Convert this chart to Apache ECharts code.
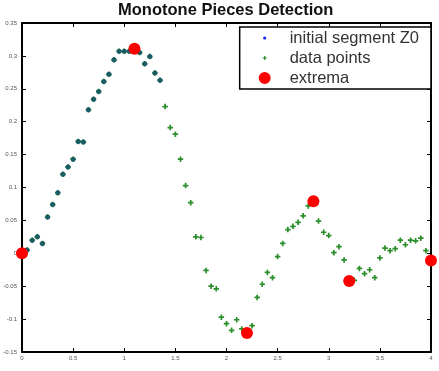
<!DOCTYPE html>
<html>
<head>
<meta charset="utf-8">
<script src="https://cdn.jsdelivr.net/npm/echarts@6/dist/echarts.min.js"></script>
<style>
  html, body { margin: 0; padding: 0; background: #fff; }
  #chart { width: 439px; height: 371px; }
</style>
</head>
<body>
<div id="chart"></div>
<script>
// sample positions
const xValues = [
  0, 0.05, 0.1, 0.15, 0.2, 0.25, 0.3, 0.35, 0.4, 0.45,
  0.5, 0.55, 0.6, 0.65, 0.7, 0.75, 0.8, 0.85, 0.9, 0.95,
  1, 1.05, 1.1, 1.15, 1.2, 1.25, 1.3, 1.35, 1.4, 1.45,
  1.5, 1.55, 1.6, 1.65, 1.7, 1.75, 1.8, 1.85, 1.9, 1.95,
  2, 2.05, 2.1, 2.15, 2.2, 2.25, 2.3, 2.35, 2.4, 2.45,
  2.5, 2.55, 2.6, 2.65, 2.7, 2.75, 2.8, 2.85, 2.9, 2.95,
  3, 3.05, 3.1, 3.15, 3.2, 3.25, 3.3, 3.35, 3.4, 3.45,
  3.5, 3.55, 3.6, 3.65, 3.7, 3.75, 3.8, 3.85, 3.9, 3.95,
  4
];
const yValues = [
  0.000, 0.005, 0.020, 0.025, 0.015, 0.055, 0.074, 0.092, 0.120, 0.131,
  0.143, 0.170, 0.169, 0.218, 0.234, 0.246, 0.261, 0.272, 0.294, 0.307,
  0.307, 0.307, 0.310, 0.305, 0.288, 0.299, 0.274, 0.263, 0.223, 0.191,
  0.181, 0.143, 0.103, 0.077, 0.025, 0.024, -0.026, -0.050, -0.054, -0.097,
  -0.107, -0.117, -0.101, -0.115, -0.120, -0.110, -0.067, -0.047, -0.029, -0.037,
  -0.005, 0.015, 0.036, 0.041, 0.047, 0.057, 0.072, 0.078, 0.049, 0.032,
  0.027, 0.001, 0.010, -0.010, -0.042, -0.041, -0.023, -0.031, -0.025, -0.037,
  -0.007, 0.008, 0.004, 0.007, 0.020, 0.013, 0.020, 0.019, 0.023, 0.004,
  -0.011
];
// number of samples in the initial segment Z0
const z0Count = 28;

const extremaX = [0, 1.1, 2.2, 2.85, 3.2, 4];
const extremaY = [0, 0.311, -0.121, 0.079, -0.042, -0.011];

const xTicks = [0, 0.5, 1, 1.5, 2, 2.5, 3, 3.5, 4];
const yTicks = [-0.15, -0.1, -0.05, 0, 0.05, 0.1, 0.15, 0.2, 0.25, 0.3, 0.35];

const pts = xValues.map((x, i) => [x, yValues[i]]);
const z0 = pts.slice(0, z0Count);
const ext = extremaX.map((x, i) => [x, extremaY[i]]);

const plus = 'path://M1.9,0h1.7v1.9h1.9v1.7h-1.9v1.9h-1.7v-1.9h-1.9v-1.7h1.9z';
// legend icons padded inside a 14x14 box so they keep small sizes
const pad = 'M0,0h0.01v0.01h-0.01zM14,14h0.01v0.01h-0.01z';
const iconDot = 'path://' + pad + 'M8.6,7a1.6,1.6 0 1,1 -3.2,0a1.6,1.6 0 1,1 3.2,0z';
const iconPlus = 'path://' + pad + 'M6.4,5h1.2v1.4h1.4v1.2h-1.4v1.4h-1.2v-1.4h-1.4v-1.2h1.4z';
const iconBig = 'path://' + pad + 'M13,7a6,6 0 1,1 -12,0a6,6 0 1,1 12,0z';

const fmt = v => {
  const t = yTicks.concat(xTicks).find(k => Math.abs(k - v) < 1e-9);
  return t === undefined ? '' : String(t);
};

const tickLabel = { fontSize: 6, color: '#555', fontFamily: 'Liberation Sans' };
const line = { onZero: false, lineStyle: { color: '#000', width: 2 } };

const chart = echarts.init(document.getElementById('chart'));
chart.setOption({
  animation: false,
  backgroundColor: '#fff',
  title: {
    text: 'Monotone Pieces Detection',
    left: 118, top: 2, padding: 0,
    textStyle: { fontSize: 16.5, fontWeight: 'bold', color: '#111', fontFamily: 'Liberation Sans' }
  },
  grid: { left: 22, right: 8, top: 23, bottom: 19 },
  legend: {
    orient: 'vertical',
    right: 8, top: 27,
    padding: [2, 12, 2, 18],
    itemGap: 2,
    itemWidth: 40, itemHeight: 14,
    backgroundColor: '#fff',
    borderColor: '#000', borderWidth: 1.5,
    textStyle: { fontSize: 16.5, lineHeight: 18, color: '#333', fontFamily: 'Liberation Sans' },
    data: [
      { name: 'initial segment Z0', icon: iconDot, itemStyle: { color: '#1020ff', opacity: 1 } },
      { name: 'data points', icon: iconPlus, itemStyle: { color: '#1f8a1f', opacity: 1 } },
      { name: 'extrema', icon: iconBig, itemStyle: { color: '#ff0000', opacity: 1 } }
    ]
  },
  xAxis: [
    {
      type: 'value', min: 0, max: 4, interval: 0.5,
      axisLine: line,
      axisTick: { inside: true, length: 4, lineStyle: { color: '#000' } },
      axisLabel: Object.assign({ margin: 3, formatter: fmt }, tickLabel),
      splitLine: { show: false }
    },
    {
      type: 'value', position: 'top', min: 0, max: 4, interval: 0.5,
      axisLine: line,
      axisTick: { inside: true, length: 4, lineStyle: { color: '#000' } },
      axisLabel: { show: false },
      splitLine: { show: false }
    }
  ],
  yAxis: [
    {
      type: 'value', min: -0.15, max: 0.35, interval: 0.05,
      axisLine: line,
      axisTick: { inside: true, length: 4, lineStyle: { color: '#000' } },
      axisLabel: Object.assign({ margin: 5, formatter: fmt }, tickLabel),
      splitLine: { show: false }
    },
    {
      type: 'value', position: 'right', min: -0.15, max: 0.35, interval: 0.05,
      axisLine: line,
      axisTick: { inside: true, length: 4, lineStyle: { color: '#000' } },
      axisLabel: { show: false },
      splitLine: { show: false }
    }
  ],
  series: [
    {
      name: 'initial segment Z0', type: 'scatter', z: 3,
      data: z0, symbol: 'circle', symbolSize: 5,
      itemStyle: { color: '#1a5c66', opacity: 1 }
    },
    {
      name: 'data points', type: 'scatter', z: 2,
      data: pts, symbol: plus, symbolSize: 5.5,
      itemStyle: { color: '#2a8e2a', opacity: 1 }
    },
    {
      name: 'extrema', type: 'scatter', z: 4,
      data: ext, symbol: 'circle', symbolSize: 12,
      itemStyle: { color: '#ff0000', opacity: 1 }
    }
  ]
});
</script>
</body>
</html>
